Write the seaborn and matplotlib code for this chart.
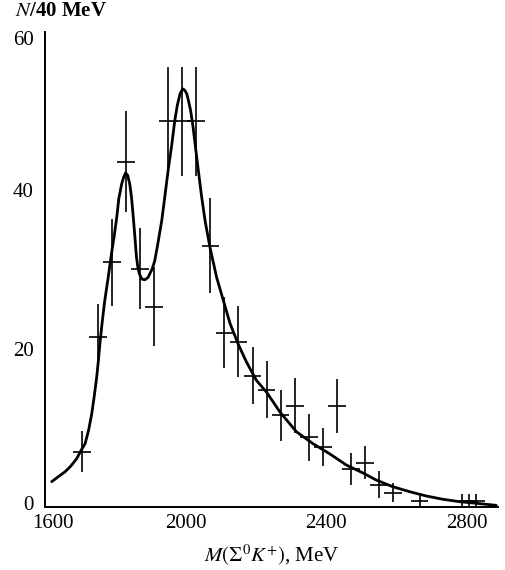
import numpy as np
import pandas as pd
import matplotlib
matplotlib.use("Agg")
import matplotlib.pyplot as plt
import matplotlib.transforms as mtransforms
import seaborn as sns
from matplotlib.ticker import MultipleLocator

# Measured Sigma0 K+ invariant-mass spectrum (events per 40 MeV)
mass = [1705, 1750, 1790, 1830, 1870, 1910, 1950, 1990, 2030, 2070, 2110,
        2150, 2190, 2230, 2270, 2310, 2350, 2390, 2430, 2470, 2510, 2550,
        2590, 2665, 2785, 2805, 2825]
counts = [7.0, 21.5, 30.9, 43.6, 30.1, 25.3, 48.7, 48.7, 48.7, 33.0, 22.0,
          20.9, 16.6, 14.8, 11.6, 12.8, 8.8, 7.6, 12.8, 4.8, 5.6, 2.8,
          1.8, 0.8, 0.8, 0.8, 0.8]
count_err = [2.6, 4.1, 5.5, 6.4, 5.1, 5.0, 6.9, 6.9, 6.9, 6.0, 4.5,
             4.5, 3.6, 3.6, 3.2, 3.5, 3.0, 2.4, 3.4, 2.0, 2.1, 1.7,
             1.2, 1.0, 0.9, 0.9, 0.9]
mass_halfwidth = 25

# Fitted curve (two resonances on a falling background)
fit_mass = [1619, 1637, 1657, 1674, 1690, 1702, 1714, 1724, 1733, 1740,
            1747, 1752, 1756, 1763, 1770, 1780, 1789, 1797, 1804, 1810,
            1818, 1824, 1829, 1835, 1841, 1846, 1851, 1856, 1860, 1864,
            1868, 1875, 1884, 1893, 1905, 1912, 1921, 1932, 1941, 1950,
            1960, 1969, 1976, 1984, 1989, 1993, 1998, 2003, 2007, 2014,
            2021, 2028, 2036, 2045, 2055, 2069, 2088, 2107, 2126, 2149,
            2173, 2201, 2230, 2268, 2315, 2362, 2410, 2457, 2504, 2542,
            2589, 2637, 2684, 2732, 2779, 2826, 2883]
fit_counts = [3.2, 3.8, 4.45, 5.2, 6.1, 7.1, 8.0, 9.7, 11.8, 14.0,
              16.4, 18.6, 20.6, 23.5, 26.1, 29.1, 32.0, 34.3, 36.6, 39.0,
              40.8, 41.7, 42.2, 41.9, 40.8, 39.1, 36.6, 33.9, 31.6, 30.3,
              29.5, 28.8, 28.7, 29.0, 30.1, 31.1, 33.3, 36.2, 39.3, 42.5,
              45.6, 48.8, 50.7, 52.2, 52.6, 52.8, 52.6, 52.2, 51.5, 50.1,
              48.0, 45.4, 42.5, 39.3, 36.2, 32.8, 29.0, 26.1, 23.2, 20.6,
              18.3, 16.0, 14.5, 12.0, 9.5, 8.0, 6.7, 5.3, 4.3, 3.4,
              2.56, 1.93, 1.39, 0.97, 0.67, 0.47, 0.21]

x_ticks = [1600, 2000, 2400, 2800]
y_ticks = [0, 20, 40, 60]

sns.set_theme(style="white")
plt.rcParams["font.family"] = ["Liberation Serif", "DejaVu Serif"]
plt.rcParams["mathtext.fontset"] = "stix"

fig = plt.figure(figsize=(5.05, 5.70), dpi=100)
ax = fig.add_axes([45 / 505, 63 / 570, 453 / 505, 475 / 570])

fit = pd.DataFrame({"mass": fit_mass, "counts": fit_counts})

ax.errorbar(mass, counts, yerr=count_err, xerr=mass_halfwidth, fmt="none",
            ecolor="black", elinewidth=1.2, capsize=0)
sns.lineplot(data=fit, x="mass", y="counts", color="black", linewidth=2.0,
             sort=False, ax=ax)

ax.set_xlim(1600, 2888)
ax.set_ylim(0, 60)
ax.set_xticks(x_ticks)
ax.set_yticks(y_ticks)
ax.xaxis.set_minor_locator(MultipleLocator(200))
ax.yaxis.set_minor_locator(MultipleLocator(10))
ax.tick_params(axis="both", which="both", direction="in", length=7,
               width=1.2, color="black")
ax.tick_params(axis="x", which="major", pad=5, labelsize=15)
ax.tick_params(axis="y", which="major", pad=8, labelsize=15)

for side in ["top", "right"]:
    ax.spines[side].set_visible(False)
for side in ["left", "bottom"]:
    ax.spines[side].set_color("black")
    ax.spines[side].set_linewidth(1.4)

# Nudge the corner labels apart so "0" and "1600" do not collide
def nudge(label, dx_px, dy_px):
    off = mtransforms.ScaledTranslation(dx_px / 100, dy_px / 100,
                                        fig.dpi_scale_trans)
    label.set_transform(label.get_transform() + off)

xt = ax.xaxis.get_major_ticks()
yt = ax.yaxis.get_major_ticks()
for t in xt + yt:
    t.label1.set_color("black")
nudge(xt[0].label1, 8, 0)
nudge(yt[0].label1, 0, 4)
nudge(yt[-1].label1, 0, -6)

ax.set_xlabel(r"$M(\Sigma^0K^{+})$, MeV", fontsize=15, color="black",
              labelpad=7)
ax.set_ylabel("")
fig.text(15 / 505, 1 - 11 / 570, r"$N$/40 MeV", fontsize=15,
         fontweight="bold", color="black", va="center", ha="left")

fig.savefig("out.png", dpi=100)
